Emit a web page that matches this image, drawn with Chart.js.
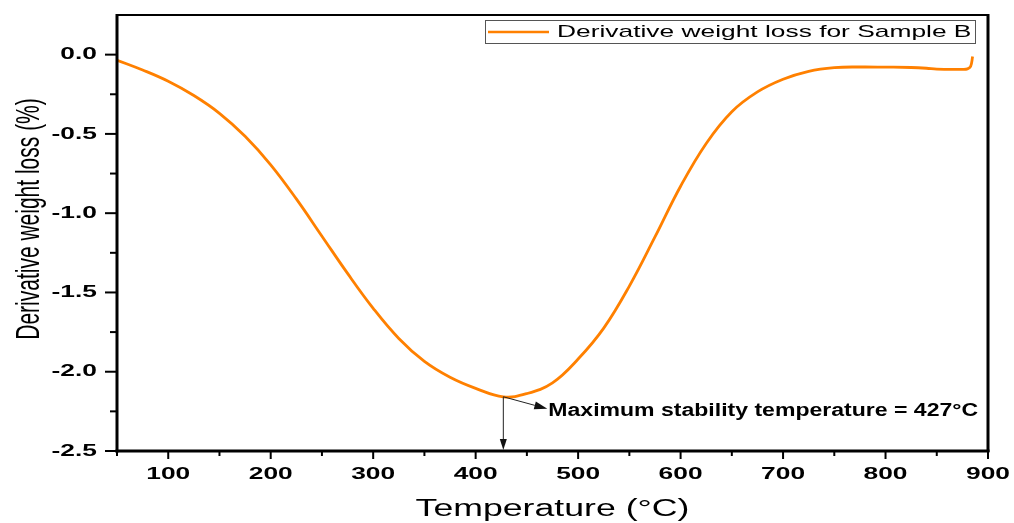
<!DOCTYPE html>
<html>
<head>
<meta charset="utf-8">
<title>Derivative weight loss - Sample B</title>
<script src="https://cdn.jsdelivr.net/npm/chart.js@4.4.0/dist/chart.umd.min.js"></script>
<style>
    html, body { margin: 0; padding: 0; background: #fff; }
    #wrap { width: 1014px; height: 523px; position: relative; }
</style>
</head>
<body>
<div id="wrap"><canvas id="dtgChart"></canvas></div>
<script>
// Data
const temperature = [50, 75, 100, 125, 150, 175, 200, 225, 250, 275, 300, 325, 350, 375, 400, 427,
    450, 475, 500, 525, 550, 575, 600, 625, 650, 675, 700, 725, 750, 775, 800, 825, 840, 850, 875, 880, 883, 885];
const weightLoss = [-0.035, -0.097, -0.168, -0.258, -0.37, -0.515, -0.695, -0.91, -1.145, -1.38, -1.60, -1.79, -1.935, -2.035, -2.105, -2.158,
    -2.138, -2.07, -1.92, -1.725, -1.46, -1.15, -0.83, -0.56, -0.36, -0.235, -0.155, -0.105, -0.082, -0.078, -0.079, -0.081, -0.086, -0.092, -0.093, -0.090, -0.075, -0.012];

const xTicks = [100, 200, 300, 400, 500, 600, 700, 800, 900];
const xMinorTicks = [50, 150, 250, 350, 450, 550, 650, 750, 850];
const yTicks = [0.0, -0.5, -1.0, -1.5, -2.0, -2.5];
const yMinorTicks = [-0.25, -0.75, -1.25, -1.75, -2.25];

const seriesLabel = 'Derivative weight loss for Sample B';
const xTitle = 'Temperature (°C)';
const yTitle = 'Derivative weight loss (%)';
const peakTemp = 427;
const peakValue = -2.158;
const peakLabel = 'Maximum stability temperature = 427°C';

const lineColor = '#ff8000';
const STRETCH = 1.55;   // the original figure is stretched sideways

function drawText(ctx, text, x, y, font, align, sx, rotate) {
    ctx.save();
    ctx.translate(x, y);
    ctx.scale(sx || 1, 1);
    if (rotate) ctx.rotate(rotate);
    ctx.font = font;
    ctx.textAlign = align || 'center';
    ctx.textBaseline = 'middle';
    ctx.fillStyle = '#000';
    ctx.fillText(text, 0, 0);
    ctx.restore();
}

function drawArrow(ctx, x1, y1, x2, y2, headLen, headHalf) {
    const ang = Math.atan2(y2 - y1, x2 - x1);
    const bx = x2 - headLen * Math.cos(ang);
    const by = y2 - headLen * Math.sin(ang);
    ctx.beginPath();
    ctx.moveTo(x1, y1);
    ctx.lineTo(bx, by);
    ctx.stroke();
    ctx.beginPath();
    ctx.moveTo(x2, y2);
    ctx.lineTo(bx + headHalf * Math.sin(ang), by - headHalf * Math.cos(ang));
    ctx.lineTo(bx - headHalf * Math.sin(ang), by + headHalf * Math.cos(ang));
    ctx.closePath();
    ctx.fill();
}

// Axes, ticks, labels, legend and the peak annotation
const decorations = {
    id: 'decorations',
    afterDatasetsDraw(chart) {
        const { ctx, chartArea: a, scales: { x, y } } = chart;
        ctx.save();
        ctx.strokeStyle = '#000';
        ctx.lineCap = 'butt';

        // frame
        ctx.lineWidth = 2;
        ctx.beginPath(); ctx.moveTo(a.left, a.top); ctx.lineTo(a.right, a.top); ctx.stroke();
        ctx.lineWidth = 3;
        ctx.beginPath(); ctx.moveTo(a.right, a.top - 1); ctx.lineTo(a.right, a.bottom + 1); ctx.stroke();
        ctx.beginPath(); ctx.moveTo(a.left, a.top - 1); ctx.lineTo(a.left, a.bottom + 1.5); ctx.stroke();
        ctx.beginPath(); ctx.moveTo(a.left - 1.5, a.bottom); ctx.lineTo(a.right + 1.5, a.bottom); ctx.stroke();

        // tick marks
        ctx.lineWidth = 2;
        xTicks.forEach(v => {
            const px = x.getPixelForValue(v);
            ctx.beginPath(); ctx.moveTo(px, a.bottom); ctx.lineTo(px, a.bottom + 8); ctx.stroke();
        });
        xMinorTicks.forEach(v => {
            const px = x.getPixelForValue(v);
            ctx.beginPath(); ctx.moveTo(px, a.bottom); ctx.lineTo(px, a.bottom + 5); ctx.stroke();
        });
        yTicks.forEach(v => {
            const py = y.getPixelForValue(v);
            ctx.beginPath(); ctx.moveTo(a.left, py); ctx.lineTo(a.left - 12, py); ctx.stroke();
        });
        yMinorTicks.forEach(v => {
            const py = y.getPixelForValue(v);
            ctx.beginPath(); ctx.moveTo(a.left, py); ctx.lineTo(a.left - 7, py); ctx.stroke();
        });

        // tick labels
        const tickFont = 'bold 17px "Liberation Sans", Arial, sans-serif';
        xTicks.forEach(v => {
            drawText(ctx, String(v), x.getPixelForValue(v), a.bottom + 23, tickFont, 'center', STRETCH);
        });
        yTicks.forEach(v => {
            drawText(ctx, v.toFixed(1), a.left - 20, y.getPixelForValue(v), tickFont, 'right', STRETCH);
        });

        // axis titles
        drawText(ctx, xTitle, (a.left + a.right) / 2, 510, '23px "Liberation Sans", Arial, sans-serif', 'center', STRETCH);
        drawText(ctx, yTitle, 30, 219, '21px "Liberation Sans", Arial, sans-serif', 'center', STRETCH, -Math.PI / 2);

        // legend
        ctx.lineWidth = 1;
        ctx.strokeStyle = '#555';
        ctx.strokeRect(485.5, 20.5, 490, 23);
        ctx.strokeStyle = lineColor;
        ctx.lineWidth = 2.5;
        ctx.beginPath(); ctx.moveTo(488, 32); ctx.lineTo(549, 32); ctx.stroke();
        drawText(ctx, seriesLabel, 557, 32, '17px "Liberation Sans", Arial, sans-serif', 'left', STRETCH);

        // peak annotation
        const px = x.getPixelForValue(peakTemp);
        const py = y.getPixelForValue(peakValue);
        ctx.strokeStyle = '#222';
        ctx.fillStyle = '#111';
        ctx.lineWidth = 1;
        drawArrow(ctx, px, py, px, a.bottom - 1, 11, 3.5);
        drawArrow(ctx, px, py, px + 44, py + 12, 13, 4);
        drawText(ctx, peakLabel, px + 45, py + 14, 'bold 18px "Liberation Sans", Arial, sans-serif', 'left', 1.28);

        ctx.restore();
    }
};

function initChart() {
    const ctx = document.getElementById('dtgChart').getContext('2d');
    return new Chart(ctx, {
        type: 'line',
        data: {
            datasets: [{
                label: seriesLabel,
                data: temperature.map((t, i) => ({ x: t, y: weightLoss[i] })),
                borderColor: lineColor,
                backgroundColor: lineColor,
                borderWidth: 2.8,
                pointRadius: 0,
                tension: 0.4,
                fill: false
            }]
        },
        options: {
            responsive: true,
            maintainAspectRatio: false,
            animation: false,
            layout: {
                padding: { left: 117, right: 26, top: 15, bottom: 72 }
            },
            plugins: {
                legend: { display: false },
                tooltip: { enabled: false }
            },
            scales: {
                x: { type: 'linear', display: false, min: 50, max: 900 },
                y: { type: 'linear', display: false, min: -2.5, max: 0.25 }
            }
        },
        plugins: [decorations]
    });
}

document.addEventListener('DOMContentLoaded', initChart);
</script>
</body>
</html>
